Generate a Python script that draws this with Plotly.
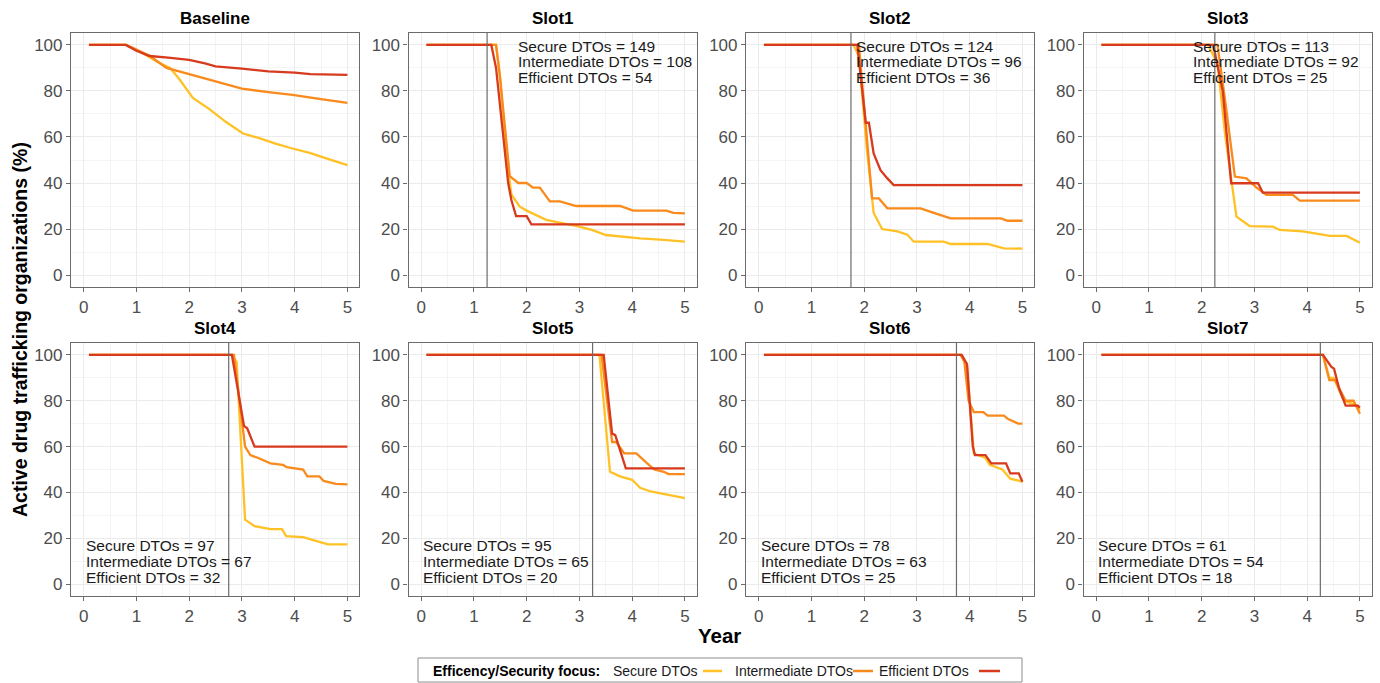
import plotly.graph_objects as go
from plotly.subplots import make_subplots

# ---------------- data ----------------
panels = ["Baseline", "Slot1", "Slot2", "Slot3", "Slot4", "Slot5", "Slot6", "Slot7"]
series_names = ["Secure DTOs", "Intermediate DTOs", "Efficient DTOs"]
series_colors = ["#FFC125", "#F98A1B", "#D73A1C"]
intervention_year = [None, 1.25, 1.75, 2.25, 2.75, 3.25, 3.75, 4.25]
secure_counts = [None, 149, 124, 113, 97, 95, 78, 61]
intermediate_counts = [None, 108, 96, 92, 67, 65, 63, 54]
efficient_counts = [None, 54, 36, 25, 32, 20, 25, 18]

baseline_secure = [(0.1, 100), (0.8, 100), (1.0, 98), (1.25, 94.5), (1.45, 92), (1.64, 90), (1.82, 85),
                   (2.07, 77), (2.39, 72), (2.7, 66.5), (3.02, 61.5), (3.33, 59.5), (3.65, 57),
                   (3.96, 55), (4.3, 53), (4.6, 50.7), (5.0, 47.8)]
baseline_intermediate = [(0.1, 100), (0.8, 100), (1.0, 98), (1.26, 95.2), (1.57, 90), (1.8, 88.5),
                         (2.07, 87), (2.5, 84), (3.0, 81), (3.5, 79.5), (3.96, 78.3), (4.5, 76.5),
                         (5.0, 74.8)]
baseline_efficient = [(0.1, 100), (0.8, 100), (1.0, 97.5), (1.25, 95.2), (1.6, 94.5), (2.0, 93.5),
                      (2.3, 92), (2.5, 90.7), (3.0, 89.7), (3.5, 88.5), (4.0, 88), (4.3, 87.3),
                      (5.0, 87)]

slot1_secure = [(0.1, 100), (1.42, 100), (1.5, 85), (1.6, 55), (1.71, 35), (1.87, 29.7), (2.0, 28),
                (2.18, 26), (2.37, 24), (3.0, 21), (3.25, 19.5), (3.5, 17.4), (4.15, 15.9),
                (4.6, 15.3), (5.0, 14.5)]
slot1_intermediate = [(0.1, 100), (1.42, 100), (1.5, 85), (1.68, 43), (1.84, 40), (2.0, 40),
                      (2.12, 38), (2.25, 38), (2.44, 32), (2.63, 32), (2.94, 30), (3.77, 30),
                      (4.02, 28), (4.65, 28), (4.78, 27), (5.0, 26.8)]
slot1_efficient = [(0.1, 100), (1.33, 100), (1.42, 90), (1.65, 40), (1.71, 32.6), (1.8, 25.6),
                   (2.0, 25.6), (2.09, 22), (5.0, 22)]

slot2_secure = [(0.1, 100), (1.8, 100), (1.9, 95), (2.05, 55), (2.18, 27), (2.34, 20), (2.63, 19),
                (2.82, 17.5), (2.94, 14.5), (3.51, 14.5), (3.64, 13.5), (4.34, 13.5), (4.65, 11.6),
                (5.0, 11.5)]
slot2_intermediate = [(0.1, 100), (1.9, 100), (2.15, 33.3), (2.28, 33.3), (2.44, 29), (3.07, 29),
                      (3.32, 27), (3.64, 24.6), (4.59, 24.6), (4.72, 23.6), (5.0, 23.6)]
slot2_efficient = [(0.1, 100), (1.87, 100), (2.03, 66.2), (2.09, 66.2), (2.18, 52.9), (2.31, 45.6),
                   (2.44, 42), (2.56, 39.1), (5.0, 39.1)]

slot3_secure = [(0.1, 100), (2.12, 100), (2.3, 92), (2.45, 60), (2.66, 25.4), (2.91, 21.3),
                (3.35, 21), (3.48, 19.6), (3.92, 19), (4.43, 17), (4.75, 17), (5.0, 14)]
slot3_intermediate = [(0.1, 100), (2.3, 100), (2.45, 75), (2.63, 42.8), (2.85, 42), (3.04, 38),
                      (3.23, 34.8), (3.73, 34.8), (3.86, 32.3), (5.0, 32.3)]
slot3_efficient = [(0.1, 100), (2.22, 100), (2.4, 80), (2.56, 39.9), (3.07, 39.9), (3.16, 35.8),
                   (5.0, 35.8)]

slot4_secure = [(0.1, 100), (2.81, 100), (2.9, 97), (3.06, 28.1), (3.24, 25.3), (3.54, 24),
                (3.76, 24), (3.84, 20.9), (4.16, 20.5), (4.4, 19), (4.63, 17.3), (5.0, 17.3)]
slot4_intermediate = [(0.1, 100), (2.85, 100), (3.06, 60), (3.16, 56.3), (3.31, 55), (3.54, 52.7),
                      (3.78, 52), (3.85, 51), (4.16, 50), (4.24, 47), (4.47, 47), (4.55, 45),
                      (4.78, 43.7), (5.0, 43.5)]
slot4_efficient = [(0.1, 100), (2.81, 100), (3.04, 69), (3.1, 68), (3.24, 60), (5.0, 60)]

slot5_secure = [(0.1, 100), (3.38, 100), (3.58, 49), (3.77, 47), (4.0, 45.5), (4.15, 42),
                (4.35, 40.4), (4.69, 39), (5.0, 37.5)]
slot5_intermediate = [(0.1, 100), (3.42, 100), (3.62, 62), (3.7, 62), (3.85, 57), (4.08, 57),
                      (4.27, 53), (4.42, 50), (4.6, 49), (4.69, 48), (5.0, 48)]
slot5_efficient = [(0.1, 100), (3.46, 100), (3.62, 65.7), (3.68, 65), (3.88, 50.5), (5.0, 50.5)]

slot6_secure = [(0.1, 100), (3.83, 100), (3.95, 95), (4.08, 57), (4.3, 55), (4.38, 52), (4.62, 50),
                (4.77, 46), (4.95, 45), (5.0, 44.5)]
slot6_intermediate = [(0.1, 100), (3.83, 100), (3.9, 97), (3.98, 80), (4.08, 75), (4.26, 75),
                      (4.34, 73.5), (4.65, 73.5), (4.73, 72), (4.92, 70), (5.0, 70)]
slot6_efficient = [(0.1, 100), (3.85, 100), (3.95, 96), (4.06, 60), (4.1, 56.3), (4.3, 56.3),
                   (4.41, 52.7), (4.69, 52.7), (4.77, 48.3), (4.93, 48.3), (5.0, 44.7)]

slot7_secure = [(0.1, 100), (4.3, 100), (4.42, 90), (4.5, 90), (4.7, 80), (4.93, 78), (5.0, 76)]
slot7_intermediate = [(0.1, 100), (4.3, 100), (4.42, 89), (4.53, 89), (4.73, 80), (4.88, 80),
                      (5.0, 74.3)]
slot7_efficient = [(0.1, 100), (4.3, 100), (4.46, 94.8), (4.51, 94), (4.61, 85), (4.73, 77.9),
                   (4.96, 77.9), (5.0, 77)]

panel_series = [
    [baseline_secure, baseline_intermediate, baseline_efficient],
    [slot1_secure, slot1_intermediate, slot1_efficient],
    [slot2_secure, slot2_intermediate, slot2_efficient],
    [slot3_secure, slot3_intermediate, slot3_efficient],
    [slot4_secure, slot4_intermediate, slot4_efficient],
    [slot5_secure, slot5_intermediate, slot5_efficient],
    [slot6_secure, slot6_intermediate, slot6_efficient],
    [slot7_secure, slot7_intermediate, slot7_efficient],
]

x_ticks = [0, 1, 2, 3, 4, 5]
y_ticks = [0, 20, 40, 60, 80, 100]

# ---------------- layout helpers ----------------
W, H = 1380, 683
FONT = "Liberation Sans, Arial, sans-serif"
col_left = [71, 408.5, 746, 1083.5]
panel_w = 288
row_top = [33, 343]
row_bot = [287, 596]

fig = make_subplots(rows=2, cols=4)

annotations = []
shapes = []

for i, name in enumerate(panels):
    r, c = divmod(i, 4)
    for s, pts in enumerate(panel_series[i]):
        fig.add_trace(go.Scatter(
            x=[p[0] for p in pts], y=[p[1] for p in pts], mode="lines",
            line=dict(color=series_colors[s], width=2.3), name=series_names[s],
            showlegend=False, hoverinfo="skip"), row=r + 1, col=c + 1)
    ax = "" if i == 0 else str(i + 1)
    xd = [col_left[c] / W, (col_left[c] + panel_w) / W]
    yd = [1 - row_bot[r] / H, 1 - row_top[r] / H]
    fig.layout["xaxis" + ax].update(domain=xd)
    fig.layout["yaxis" + ax].update(domain=yd)
    # panel title
    annotations.append(dict(text="<b>" + name + "</b>", xref="paper", yref="paper",
                            x=(col_left[c] + panel_w / 2) / W, y=1 - (row_top[r] - 15) / H,
                            showarrow=False, font=dict(size=17, color="#000000", family=FONT),
                            xanchor="center", yanchor="middle"))
    if intervention_year[i] is not None:
        shapes.append(dict(type="line", xref="x" + ax, yref="y" + ax + " domain",
                           x0=intervention_year[i], x1=intervention_year[i], y0=0, y1=1,
                           line=dict(color="#6b6b6b", width=1.2), layer="above"))
        lines = ["Secure DTOs = %d" % secure_counts[i],
                 "Intermediate DTOs = %d" % intermediate_counts[i],
                 "Efficient DTOs = %d" % efficient_counts[i]]
        if r == 0:
            tx, ys = 1.8, [99.3, 92.6, 85.7]
        else:
            tx, ys = 0.0, [16.9, 10.0, 3.0]
        for t, yy in zip(lines, ys):
            annotations.append(dict(text=t, xref="x" + ax, yref="y" + ax, x=tx, y=yy,
                                    showarrow=False, xanchor="left", yanchor="middle",
                                    font=dict(size=15.5, color="#1a1a1a", family=FONT)))

fig.update_xaxes(range=[-0.24, 5.22], tickvals=x_ticks, ticks="outside", ticklen=4,
                 tickcolor="#6b6b6b", showline=True, mirror=True, linecolor="#6b6b6b",
                 linewidth=1.2, zeroline=False, showgrid=True, gridcolor="#EBEBEB", gridwidth=1,
                 minor=dict(dtick=0.5, tick0=0, showgrid=True, gridcolor="#F4F4F4", gridwidth=1),
                 tickfont=dict(size=17, color="#4D4D4D", family=FONT))
fig.update_yaxes(range=[-5.2, 105.2], tickvals=y_ticks, ticks="outside", ticklen=4,
                 tickcolor="#6b6b6b", showline=True, mirror=True, linecolor="#6b6b6b",
                 linewidth=1.2, zeroline=False, showgrid=True, gridcolor="#EBEBEB", gridwidth=1,
                 minor=dict(dtick=10, tick0=0, showgrid=True, gridcolor="#F4F4F4", gridwidth=1),
                 tickfont=dict(size=17, color="#4D4D4D", family=FONT))

# axis titles
annotations.append(dict(text="<b>Active drug trafficking organizations (%)</b>", xref="paper",
                        yref="paper", x=20 / W, y=1 - 330 / H, textangle=-90, showarrow=False,
                        font=dict(size=19.5, color="#000000", family=FONT),
                        xanchor="center", yanchor="middle"))
annotations.append(dict(text="<b>Year</b>", xref="paper", yref="paper", x=719 / W, y=1 - 635 / H,
                        showarrow=False, font=dict(size=20.5, color="#000000", family=FONT),
                        xanchor="center", yanchor="middle"))

# legend (drawn manually: label then key)
ly = 1 - 671 / H
shapes.append(dict(type="rect", xref="paper", yref="paper", x0=418 / W, x1=1022 / W,
                   y0=1 - 682 / H, y1=1 - 658 / H, line=dict(color="#8c8c8c", width=1),
                   fillcolor="rgba(0,0,0,0)"))
annotations.append(dict(text="<b>Efficency/Security focus:</b>", xref="paper", yref="paper",
                        x=431 / W, y=ly, showarrow=False, xanchor="left", yanchor="middle",
                        font=dict(size=14, color="#000000", family=FONT)))
label_x = [611, 733, 877]
key_x = [(703, 722), (853, 873), (979, 1000)]
for s in range(3):
    annotations.append(dict(text=series_names[s], xref="paper", yref="paper", x=label_x[s] / W,
                            y=ly, showarrow=False, xanchor="left", yanchor="middle",
                            font=dict(size=14, color="#1a1a1a", family=FONT)))
    shapes.append(dict(type="line", xref="paper", yref="paper", x0=key_x[s][0] / W,
                       x1=key_x[s][1] / W, y0=ly, y1=ly,
                       line=dict(color=series_colors[s], width=2.5)))

fig.update_layout(width=W, height=H, margin=dict(l=0, r=0, t=0, b=0),
                  plot_bgcolor="white", paper_bgcolor="white", showlegend=False,
                  annotations=annotations, shapes=shapes, font=dict(family=FONT))

fig.write_html("out.html", config={"displayModeBar": False},
               post_script="document.body.style.margin='0';document.body.style.overflow='hidden';")
